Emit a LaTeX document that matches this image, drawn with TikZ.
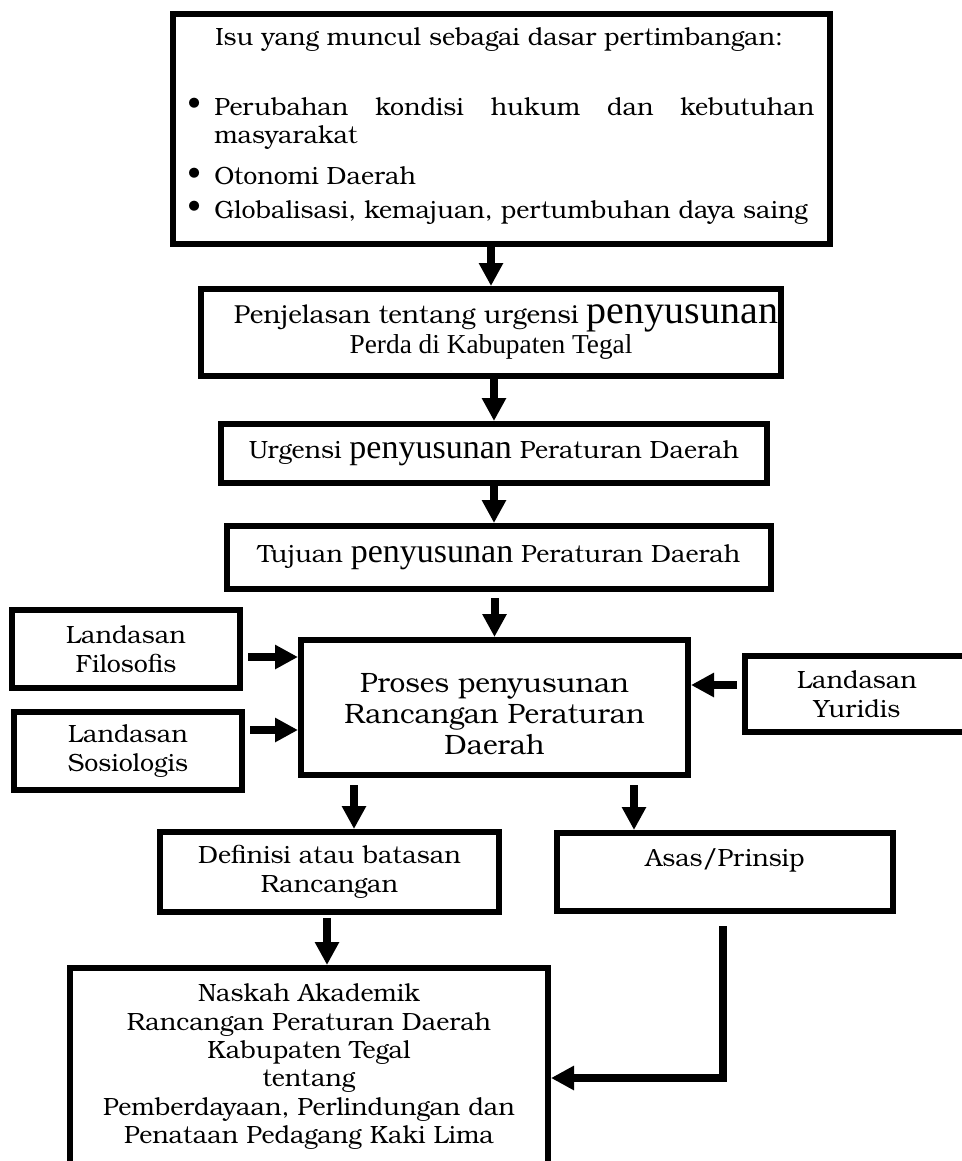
\documentclass[tikz,border=0pt]{standalone}
\usepackage{fontspec}
\setmainfont{TeX Gyre Bonum}
\newfontfamily\tm{Liberation Serif}
\usetikzlibrary{arrows.meta,calc}
\newcommand\fs{\fontsize{18.7pt}{21.3pt}\selectfont}
\newcommand\fb{\fontsize{21pt}{23.25pt}\selectfont}
\newcommand\pz{{\tm\fontsize{25.5pt}{21.3pt}\selectfont penyusunan}}
\newcommand\pzb{{\tm\fontsize{30pt}{22.5pt}\selectfont penyusunan}}
\newcommand\tmline[1]{{\tm\fontsize{20.5pt}{22.5pt}\selectfont #1}}
\begin{document}
\begin{tikzpicture}[x=0.75pt,y=-0.75pt,
  box/.style={draw, line width=4.5pt, inner sep=0pt, align=center, font=\fs},
  arr/.style={line width=6pt, -{Triangle[width=17.25pt,length=17.25pt]}},
  txt/.style={inner sep=0pt, font=\fs, anchor=base west},
  bul/.style={inner sep=0pt, font=\fontsize{22pt}{22pt}\selectfont}]
\useasboundingbox (0,0) rectangle (962,1161);
% boxes
\node[box, font=\fontsize{19.5pt}{22.5pt}\selectfont, minimum width=435pt, minimum height=65.25pt] (box2) at (491,332.5)
  {\hspace*{22.5pt}Penjelasan tentang urgensi \pzb\\\tmline{Perda di Kabupaten Tegal}};
\node[box, minimum width=492.75pt, minimum height=172.5pt] (top) at (501.5,129) {};
\node[box, minimum width=409.5pt, minimum height=44.25pt] (box3) at (494,453.5)
  {Urgensi \pz{} Peraturan Daerah};
\node[box, minimum width=408pt, minimum height=47.25pt] (box4) at (499,557.5)
  {Tujuan \pz{} Peraturan Daerah};
\node[box, minimum width=290.25pt, minimum height=101.25pt] (proses) at (494.5,707.5) {};
\node[inner sep=0pt, align=center, font=\fb] (prosestext) at (494.5,714)
  {Proses penyusunan\\Rancangan Peraturan\\Daerah};
\node[box, minimum width=171pt, minimum height=58.5pt] (filo) at (126,649)
  {Landasan\\Filosofis};
\node[box, minimum width=171pt, minimum height=58.5pt] (sosio) at (128,751)
  {Landasan\\Sosiologis};
\node[box, minimum width=168pt, minimum height=57pt] (yuri) at (857,694)
  {Landasan\\Yuridis};
\node[box, minimum width=254.25pt, minimum height=60pt] (defi) at (329.5,872)
  {Definisi atau batasan\\Rancangan};
\node[box, minimum width=252pt, minimum height=58.5pt] (asas) at (725,872)
  {Asas/Prinsip\\\mbox{}};
\node[box, minimum width=358.5pt, minimum height=165pt] (naskah) at (309,1078)
  {Naskah Akademik\\Rancangan Peraturan Daerah\\Kabupaten Tegal\\tentang\\Pemberdayaan, Perlindungan dan\\Penataan Pedagang Kaki Lima\\\mbox{}};
% top box text
\node[txt] (t0) at (215,45) {Isu yang muncul sebagai dasar pertimbangan:};
\node[txt] (t1) at (214,115) {\makebox[450pt][s]{Perubahan kondisi hukum dan kebutuhan}};
\node[txt] (t2) at (214,143) {masyarakat};
\node[txt] (t3) at (214,184) {Otonomi Daerah};
\node[txt] (t4) at (214,218) {Globalisasi, kemajuan, pertumbuhan daya saing};
\node[bul] (b1) at (194,106) {\textbullet};
\node[bul] (b2) at (194,176) {\textbullet};
\node[bul] (b3) at (194,209) {\textbullet};
% connectors
\draw[arr] (top.south -| box2.north) -- (box2.north);
\draw[arr] (box2.south -| box3.north) -- (box3.north);
\draw[arr] (box3.south) -- (box3.south |- box4.north);
\coordinate (c4) at ($(box4.south -| proses.north)+(0,6)$);
\draw[arr] (c4) -- (proses.north);
\coordinate (cf) at ($(filo.east)+(5,8)$);
\draw[arr] (cf) -- (cf -| proses.west);
\coordinate (cs) at ($(sosio.east)+(5,-21)$);
\draw[arr] (cs) -- (cs -| proses.west);
\coordinate (cy) at ($(yuri.west)+(-5,-9)$);
\draw[arr] (cy) -- (cy -| proses.east);
\coordinate (cd) at ($(proses.south)+(-140.5,7)$);
\draw[arr] (cd) -- (cd |- defi.north);
\coordinate (ca) at ($(proses.south)+(139.5,7)$);
\draw[arr] (ca) -- (ca |- asas.north);
\coordinate (cn) at ($(defi.south)+(-2.5,3)$);
\draw[arr] (cn) -- (cn |- naskah.north);
\coordinate (cq) at ($(asas.south)+(-2,12)$);
\draw[arr] (cq) |- (naskah.east);
\end{tikzpicture}
\end{document}
